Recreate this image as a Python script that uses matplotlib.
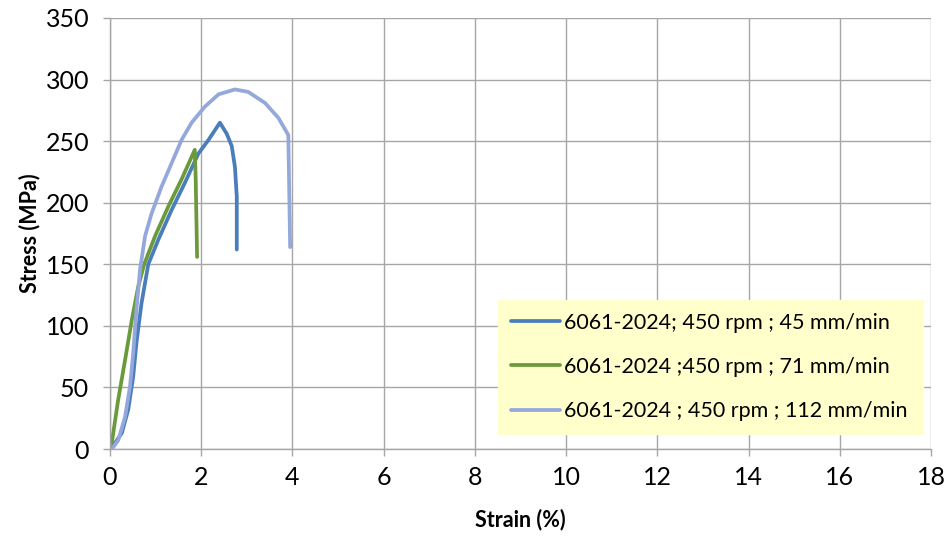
import matplotlib
matplotlib.use("Agg")
import matplotlib.pyplot as plt

plt.rcParams['font.family'] = ['Lato', 'DejaVu Sans']

# Stress-strain curves (strain in %, stress in MPa)
strain_45 = [0.04, 0.26, 0.40, 0.51, 0.58, 0.69, 0.84, 1.06, 1.35, 1.64, 1.94, 2.16, 2.41,
             2.56, 2.67, 2.74, 2.78, 2.78]
stress_45 = [1, 13, 32, 59, 86, 118, 150, 170, 194, 216, 240, 251, 265,
             256, 246, 229, 205, 162]

strain_71 = [0.04, 0.18, 0.33, 0.48, 0.62, 0.75, 0.99, 1.28, 1.57, 1.86, 1.88, 1.91]
stress_71 = [5, 40, 72, 105, 132, 150, 173, 197, 219, 243, 219, 156]

strain_112 = [0.04, 0.18, 0.33, 0.44, 0.51, 0.58, 0.66, 0.77, 0.91, 1.13, 1.35, 1.57, 1.79,
              2.08, 2.38, 2.74, 3.03, 3.40, 3.69, 3.91, 3.95]
stress_112 = [0, 7, 26, 51, 78, 113, 146, 173, 191, 213, 232, 251, 265,
              278, 288, 292, 290, 281, 269, 255, 164]

labels = ["6061-2024; 450 rpm ; 45 mm/min",
          "6061-2024 ;450 rpm ; 71 mm/min",
          "6061-2024 ; 450 rpm ; 112 mm/min"]
colors = ["#4A7EBB", "#6B9A3C", "#94A8DB"]

x_ticks = list(range(0, 19, 2))
y_ticks = list(range(0, 351, 50))

fig = plt.figure(figsize=(9.52, 5.45), dpi=100)
ax = fig.add_axes([0.1155, 0.176, 0.8625, 0.791])

for xs, ys, lab, c in zip([strain_45, strain_71, strain_112],
                          [stress_45, stress_71, stress_112], labels, colors):
    ax.plot(xs, ys, color=c, lw=2.7, label=lab, solid_capstyle='round', solid_joinstyle='round')

ax.set_xlim(0, 18)
ax.set_ylim(0, 350)
ax.set_xticks(x_ticks)
ax.set_yticks(y_ticks)
ax.grid(True, color="#A6A6A6", lw=1.0)
ax.set_axisbelow(True)
for s in ['top', 'right']:
    ax.spines[s].set_visible(False)
for s in ['left', 'bottom']:
    ax.spines[s].set_color("#A6A6A6")
    ax.spines[s].set_linewidth(1.0)
ax.tick_params(axis='both', colors="#A6A6A6", labelcolor="black", labelsize=18, length=5, width=1)
ax.tick_params(axis='y', pad=10)
ax.tick_params(axis='x', pad=7)
ax.set_xlabel("Strain (%)", fontsize=15.5, fontweight='bold', labelpad=14)
ax.set_ylabel("Stress (MPa)", fontsize=15.5, fontweight='bold', labelpad=4)

leg = ax.legend(loc='lower left', bbox_to_anchor=(0.4726, 0.035, 0.5175, 0.32), mode='expand',
                fontsize=15.5, handlelength=2.3, handletextpad=0.15, labelspacing=1.12,
                fancybox=False, frameon=True, borderaxespad=0, borderpad=0.6)
leg.get_frame().set_facecolor("#FFFFCC")
leg.get_frame().set_edgecolor("#FFFFCC")
leg.get_frame().set_alpha(1)

fig.savefig("out.png", dpi=100)
